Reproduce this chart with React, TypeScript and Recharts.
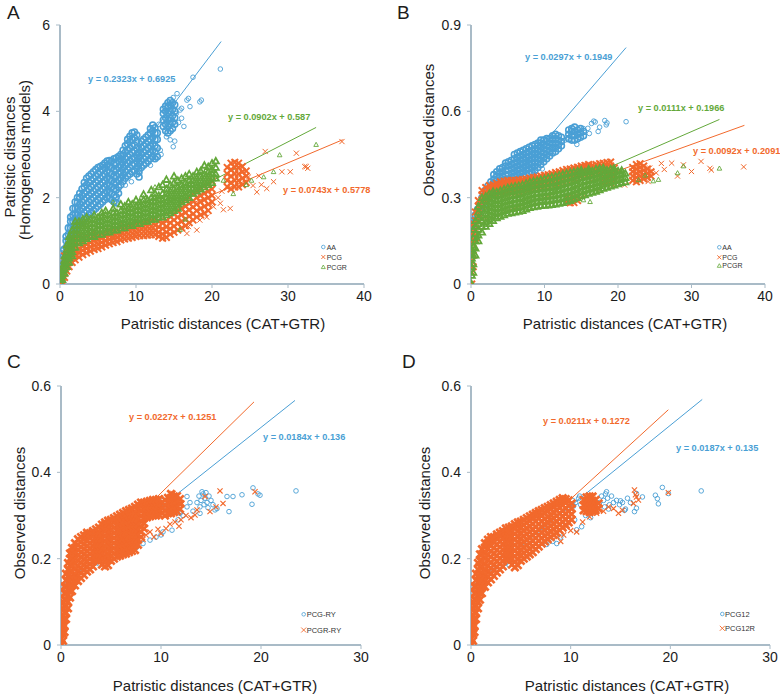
import React from "react";
import { ScatterChart, Scatter, XAxis, YAxis, ReferenceLine } from "recharts";

const BLUE = "#4a9fd5";
const ORANGE = "#f2692c";
const GREEN = "#63a83a";
const AXIS = "#a9bbc7";
const INK = "#1c1c1c";
const FONT = "'Liberation Sans', Arial, sans-serif";

type Row = number[];
type Pt = { x: number; y: number };
// columns: [x, y1, y2, ...]   points: [x, y]
const fromCols = (rows: Row[]): Pt[] => rows.flatMap(([x, ...ys]) => ys.map((y) => ({ x, y })));
const fromPts = (rows: Row[]): Pt[] => rows.map(([x, y]) => ({ x, y }));

// ---------- panel A : patristic (homogeneous) vs patristic (CAT+GTR)
const aTicksX = [0, 10, 20, 30, 40];
const aTicksY = [0, 2, 4, 6];

const aaColsA: Row[] = [
  [0.2, 0.2, 0.4], [0.5, 0.35, 0.5, 0.65, 0.8], [0.8, 0.55, 0.7, 0.85, 1.0, 1.1],
  [1.1, 0.7, 0.85, 1.0, 1.15, 1.3], [1.4, 0.85, 1.0, 1.15, 1.3, 1.45, 1.55],
  [1.7, 1.0, 1.15, 1.3, 1.45, 1.6, 1.75], [2.0, 1.15, 1.3, 1.45, 1.6, 1.75, 1.9],
  [2.3, 1.3, 1.45, 1.6, 1.75, 1.9, 2.0], [2.6, 1.4, 1.55, 1.7, 1.85, 2.0, 2.1],
  [2.9, 1.45, 1.6, 1.75, 1.9, 2.05, 2.2], [3.2, 1.5, 1.65, 1.8, 1.95, 2.1, 2.25, 2.35],
  [3.5, 1.55, 1.7, 1.85, 2.0, 2.15, 2.3, 2.45], [3.8, 1.6, 1.75, 1.9, 2.05, 2.2, 2.35, 2.5],
  [4.1, 1.65, 1.8, 1.95, 2.1, 2.25, 2.4, 2.55], [4.4, 1.7, 1.85, 2.0, 2.15, 2.3, 2.45, 2.6],
  [4.7, 1.75, 1.9, 2.05, 2.2, 2.35, 2.5, 2.65], [5.0, 1.8, 1.95, 2.1, 2.25, 2.4, 2.55, 2.7],
  [5.3, 1.85, 2.0, 2.15, 2.3, 2.45, 2.6, 2.72], [5.6, 1.9, 2.05, 2.2, 2.35, 2.5, 2.65, 2.75],
  [5.9, 1.95, 2.1, 2.25, 2.4, 2.55, 2.7, 2.8], [6.2, 2.0, 2.15, 2.3, 2.45, 2.6, 2.75, 2.85],
  [6.5, 1.98, 2.12, 2.28, 2.42, 2.58, 2.72, 2.86], [6.8, 1.95, 2.1, 2.25, 2.4, 2.55, 2.7, 2.85],
  [7.1, 1.9, 2.05, 2.2, 2.35, 2.5, 2.65, 2.8, 2.9], [7.4, 1.88, 2.02, 2.18, 2.35, 2.5, 2.65, 2.8, 2.92],
  [7.7, 2.1, 2.25, 2.4, 2.55, 2.7, 2.85, 2.95], [8.0, 2.3, 2.45, 2.6, 2.75, 2.9, 3.0],
  [8.3, 2.38, 2.52, 2.68, 2.82, 2.98, 3.1], [8.6, 2.45, 2.6, 2.75, 2.9, 3.05, 3.2],
  [8.9, 2.5, 2.65, 2.8, 2.95, 3.1, 3.25, 3.35], [9.2, 2.55, 2.7, 2.85, 3.0, 3.15, 3.3, 3.42],
  [9.5, 2.6, 2.75, 2.9, 3.05, 3.2, 3.35, 3.5], [9.8, 2.62, 2.78, 2.92, 3.08, 3.22, 3.38, 3.52],
  [10.1, 2.55, 2.7, 2.85, 3.0, 3.15, 3.3, 3.45], [10.4, 2.48, 2.62, 2.78, 2.92, 3.05],
  [10.7, 2.7, 2.85, 3.0, 3.15, 3.3], [11.0, 2.75, 2.9, 3.05, 3.2, 3.35],
  [11.3, 2.8, 2.95, 3.1, 3.25, 3.4], [11.6, 2.85, 3.0, 3.15, 3.3, 3.45],
  [11.9, 2.9, 3.05, 3.2, 3.35, 3.5, 3.6], [12.2, 2.95, 3.1, 3.25, 3.4, 3.55, 3.68],
  [12.5, 2.9, 3.05, 3.2, 3.35, 3.5, 3.62], [12.8, 2.95, 3.15, 3.35, 3.5],
  [13.6, 3.65, 3.8, 3.95, 4.05], [13.9, 3.55, 3.7, 3.85, 4.0, 4.12],
  [14.2, 3.5, 3.65, 3.8, 3.95, 4.1, 4.2], [14.5, 3.55, 3.7, 3.85, 4.0, 4.15, 4.25],
  [14.8, 3.6, 3.75, 3.9, 4.05, 4.2], [15.1, 3.7, 3.85, 4.0, 4.15],
];
const aaPtsA: Row[] = [
  [15.4, 4.41], [14.9, 4.32], [16.0, 3.84], [15.8, 4.03], [16.7, 4.26], [16.9, 4.3], [17.1, 4.11],
  [18.4, 4.22], [18.6, 4.26], [17.5, 4.79], [21.1, 4.98], [16.0, 4.07], [15.6, 3.74], [15.1, 3.31],
  [14.9, 3.18], [14.0, 3.41], [14.5, 3.34], [13.2, 3.1], [12.7, 2.91], [11.6, 2.8], [10.5, 2.56],
  [9.4, 2.37], [8.6, 2.29], [7.5, 1.95], [5.5, 1.64], [4.8, 1.48], [16.3, 3.65], [13.3, 3.0],
  [11.9, 2.75], [13.0, 3.7], [15.3, 3.95],
];
const pcgColsA: Row[] = [
  [0.1, 0.0, 0.08], [0.3, 0.05, 0.15, 0.25, 0.35], [0.6, 0.15, 0.25, 0.35, 0.45, 0.55, 0.65],
  [0.9, 0.3, 0.4, 0.5, 0.6, 0.7, 0.8], [1.2, 0.4, 0.5, 0.6, 0.7, 0.8, 0.9],
  [1.6, 0.5, 0.6, 0.7, 0.8, 0.9, 1.0], [2.0, 0.56, 0.66, 0.76, 0.86, 0.96, 1.06],
  [2.5, 0.62, 0.72, 0.82, 0.92, 1.02, 1.12], [3.0, 0.68, 0.78, 0.88, 0.98, 1.08],
  [3.5, 0.72, 0.82, 0.92, 1.02, 1.12], [4.0, 0.76, 0.86, 0.96, 1.06, 1.16],
  [4.5, 0.8, 0.9, 1.0, 1.1, 1.2], [5.0, 0.82, 0.92, 1.02, 1.12], [5.5, 0.86, 0.96, 1.06, 1.16],
  [6.0, 0.9, 1.0, 1.1, 1.2], [6.5, 0.93, 1.03, 1.13, 1.23], [7.0, 0.96, 1.06, 1.16, 1.26],
  [7.5, 0.98, 1.08, 1.18, 1.28], [8.0, 1.02, 1.12, 1.22, 1.32], [8.5, 1.04, 1.14, 1.24, 1.34],
  [9.0, 1.06, 1.16, 1.26, 1.36], [9.5, 1.08, 1.18, 1.28, 1.38], [10.0, 1.1, 1.2, 1.3, 1.4],
  [10.5, 1.12, 1.22, 1.32, 1.42], [11.0, 1.12, 1.22, 1.32, 1.42], [11.5, 1.13, 1.23, 1.33, 1.45],
  [12.0, 1.14, 1.24, 1.34, 1.48], [12.5, 1.14, 1.24, 1.36, 1.5], [13.0, 1.1, 1.2, 1.32, 1.45],
  [13.5, 1.06, 1.16, 1.28, 1.42], [14.0, 1.08, 1.2, 1.32, 1.46], [14.5, 1.15, 1.28, 1.42, 1.56],
  [15.0, 1.2, 1.34, 1.48, 1.62], [15.5, 1.25, 1.4, 1.55, 1.7], [16.0, 1.3, 1.45, 1.6, 1.75, 1.88],
  [16.5, 1.35, 1.5, 1.65, 1.8, 1.95], [17.0, 1.42, 1.57, 1.72, 1.87, 2.0],
  [17.5, 1.48, 1.62, 1.78, 1.92, 2.08], [18.0, 1.55, 1.7, 1.85, 2.0, 2.15],
  [18.5, 1.6, 1.75, 1.9, 2.05, 2.2], [19.0, 1.64, 1.8, 1.95, 2.1, 2.28],
  [19.5, 1.7, 1.85, 2.0, 2.15, 2.32], [20.0, 1.9, 2.05, 2.2, 2.38],
  [22.0, 2.25, 2.4, 2.55, 2.7], [22.5, 2.2, 2.35, 2.5, 2.65, 2.8], [23.0, 2.25, 2.4, 2.55, 2.7, 2.82],
  [23.5, 2.25, 2.4, 2.55, 2.7, 2.8], [24.0, 2.3, 2.45, 2.6, 2.72], [24.5, 2.35, 2.5, 2.62],
];
const pcgPtsA: Row[] = [
  [27.0, 3.07], [31.1, 3.03], [37.1, 3.3], [30.3, 2.6], [29.2, 2.6], [32.2, 2.72], [32.6, 2.68],
  [32.4, 2.72], [28.1, 2.37], [27.2, 2.21], [25.9, 2.13], [25.4, 2.28], [24.8, 2.48], [26.2, 2.5],
  [22.4, 1.75], [21.5, 1.72], [21.1, 1.87], [18.0, 1.25], [18.4, 1.48], [16.9, 1.33], [16.7, 1.17],
  [19.3, 1.55], [20.2, 1.79], [20.8, 2.0], [21.3, 2.15], [26.5, 2.3],
];
const pcgrColsA: Row[] = [
  [0.1, 0.02, 0.1, 0.2], [0.3, 0.1, 0.2, 0.3, 0.4], [0.6, 0.25, 0.35, 0.45, 0.55, 0.65],
  [0.9, 0.4, 0.5, 0.6, 0.7, 0.8, 0.9], [1.2, 0.5, 0.6, 0.7, 0.8, 0.9, 1.0, 1.1],
  [1.6, 0.65, 0.75, 0.85, 0.95, 1.05, 1.15, 1.25], [2.0, 0.85, 0.95, 1.05, 1.15, 1.25, 1.35, 1.45],
  [2.5, 0.95, 1.05, 1.15, 1.25, 1.35, 1.45], [3.0, 1.0, 1.1, 1.2, 1.3, 1.4, 1.5],
  [3.5, 1.05, 1.15, 1.25, 1.35, 1.45, 1.55], [4.0, 1.1, 1.2, 1.3, 1.4, 1.5],
  [4.5, 1.1, 1.2, 1.3, 1.4, 1.5, 1.6], [5.0, 1.15, 1.25, 1.35, 1.45, 1.55],
  [5.5, 1.15, 1.25, 1.35, 1.45, 1.55, 1.65], [6.0, 1.2, 1.3, 1.4, 1.5, 1.6, 1.7],
  [6.5, 1.2, 1.3, 1.4, 1.5, 1.6], [7.0, 1.25, 1.35, 1.45, 1.55, 1.65, 1.75],
  [7.5, 1.25, 1.35, 1.45, 1.55, 1.65], [8.0, 1.3, 1.4, 1.5, 1.6, 1.7, 1.85],
  [8.5, 1.3, 1.4, 1.5, 1.6, 1.7, 1.8], [9.0, 1.35, 1.45, 1.55, 1.65, 1.75, 1.9],
  [9.5, 1.35, 1.45, 1.55, 1.65, 1.75, 1.85], [10.0, 1.4, 1.5, 1.6, 1.7, 1.8, 1.95],
  [10.5, 1.4, 1.5, 1.6, 1.7, 1.8, 1.9], [11.0, 1.45, 1.55, 1.65, 1.75, 1.85, 1.95, 2.08],
  [11.5, 1.45, 1.55, 1.65, 1.75, 1.85, 1.95], [12.0, 1.5, 1.6, 1.7, 1.8, 1.9, 2.0, 2.18],
  [12.5, 1.5, 1.6, 1.7, 1.8, 1.9, 2.0, 2.1], [13.0, 1.55, 1.65, 1.75, 1.85, 1.95, 2.05, 2.25],
  [13.5, 1.55, 1.65, 1.75, 1.85, 1.95, 2.1, 2.3], [14.0, 1.6, 1.7, 1.8, 1.9, 2.0, 2.1, 2.2, 2.42],
  [14.5, 1.65, 1.75, 1.85, 1.95, 2.05, 2.15, 2.3], [15.0, 1.7, 1.8, 1.9, 2.0, 2.1, 2.2, 2.35, 2.5],
  [15.5, 1.75, 1.85, 1.95, 2.05, 2.15, 2.25, 2.4], [16.0, 1.9, 2.0, 2.1, 2.2, 2.3, 2.45],
  [16.5, 1.95, 2.05, 2.15, 2.25, 2.35, 2.5], [17.0, 2.0, 2.1, 2.2, 2.3, 2.4, 2.55],
  [17.5, 2.1, 2.2, 2.3, 2.4, 2.5], [18.0, 2.15, 2.25, 2.35, 2.45, 2.6],
  [18.5, 2.2, 2.3, 2.4, 2.5, 2.62], [19.0, 2.25, 2.35, 2.45, 2.55, 2.75],
  [19.5, 2.3, 2.4, 2.5, 2.6, 2.72], [20.0, 2.35, 2.45, 2.55, 2.65, 2.8], [20.5, 2.45, 2.55, 2.7, 2.85],
];
const pcgrPtsA: Row[] = [
  [33.7, 3.23], [28.9, 2.99], [28.1, 2.6], [26.8, 2.48], [22.8, 2.09], [18.4, 2.6], [9.0, 1.9],
  [15.8, 1.84], [15.8, 1.26], [25.2, 2.4], [24.5, 2.3], [21.5, 2.4], [16.5, 1.5], [7.0, 1.9], [12.5, 2.25],
];

// ---------- panel B : observed vs patristic (CAT+GTR)
const bTicksX = [0, 10, 20, 30, 40];
const bTicksY = [0, 0.3, 0.6, 0.9];

const aaColsB: Row[] = [
  [0.1, 0.15, 0.18, 0.21], [0.3, 0.19, 0.22], [0.6, 0.22, 0.24], [0.9, 0.24, 0.26], [1.2, 0.26, 0.275],
  [1.5, 0.27, 0.285, 0.3], [1.9, 0.28, 0.295, 0.31, 0.325], [2.3, 0.295, 0.31, 0.325, 0.34],
  [2.7, 0.31, 0.325, 0.34, 0.355], [3.1, 0.32, 0.335, 0.35, 0.365, 0.38],
  [3.5, 0.33, 0.345, 0.36, 0.375, 0.39], [3.9, 0.34, 0.355, 0.37, 0.385, 0.4],
  [4.3, 0.345, 0.36, 0.375, 0.39, 0.405], [4.7, 0.35, 0.365, 0.38, 0.395, 0.41, 0.42],
  [5.1, 0.35, 0.365, 0.38, 0.395, 0.41, 0.425], [5.5, 0.355, 0.37, 0.385, 0.4, 0.415, 0.43],
  [5.9, 0.36, 0.375, 0.39, 0.405, 0.42, 0.435, 0.45], [6.3, 0.365, 0.38, 0.395, 0.41, 0.425, 0.44, 0.455],
  [6.7, 0.37, 0.385, 0.4, 0.415, 0.43, 0.445, 0.46], [7.1, 0.375, 0.39, 0.405, 0.42, 0.435, 0.45, 0.465],
  [7.5, 0.38, 0.395, 0.41, 0.425, 0.44, 0.455, 0.47], [7.9, 0.385, 0.4, 0.415, 0.43, 0.445, 0.46, 0.475],
  [8.3, 0.39, 0.405, 0.42, 0.435, 0.45, 0.465, 0.48], [8.7, 0.395, 0.41, 0.425, 0.44, 0.455, 0.47, 0.485],
  [9.1, 0.405, 0.42, 0.435, 0.45, 0.465, 0.48, 0.49], [9.5, 0.415, 0.43, 0.445, 0.46, 0.475, 0.49, 0.5],
  [9.9, 0.425, 0.44, 0.455, 0.47, 0.485, 0.5], [10.3, 0.435, 0.45, 0.465, 0.48, 0.495, 0.505],
  [10.7, 0.445, 0.46, 0.475, 0.49, 0.505], [11.1, 0.455, 0.47, 0.485, 0.5, 0.515],
  [11.5, 0.46, 0.475, 0.49, 0.505, 0.52], [11.9, 0.47, 0.485, 0.5, 0.515], [12.3, 0.48, 0.495, 0.51],
  [13.3, 0.505, 0.52, 0.535], [13.7, 0.5, 0.515, 0.53, 0.54], [14.1, 0.5, 0.515, 0.53, 0.545],
  [14.5, 0.505, 0.52, 0.535], [14.9, 0.51, 0.525, 0.54], [15.3, 0.515, 0.53],
];
const aaPtsB: Row[] = [
  [16.4, 0.558], [16.7, 0.566], [17.5, 0.545], [17.3, 0.53], [18.2, 0.568], [18.5, 0.56], [21.1, 0.564],
  [14.4, 0.485], [16.1, 0.523], [15.3, 0.54], [8.6, 0.384], [7.6, 0.42], [16.9, 0.563], [15.9, 0.541],
  [18.4, 0.553], [11.2, 0.517], [9.7, 0.4], [12.8, 0.5],
];
const pcgColsB: Row[] = [
  [0.1, 0.0, 0.04, 0.08, 0.12, 0.16], [0.3, 0.06, 0.1, 0.14, 0.18, 0.21], [0.6, 0.16, 0.19, 0.22, 0.25],
  [1.0, 0.22, 0.245, 0.27, 0.29], [1.5, 0.27, 0.29, 0.31, 0.325], [2.0, 0.29, 0.305, 0.32, 0.335],
  [2.5, 0.3, 0.315, 0.33, 0.342], [3.0, 0.305, 0.32, 0.335, 0.345], [3.5, 0.31, 0.325, 0.34, 0.35],
  [4.0, 0.315, 0.33, 0.345, 0.355], [4.5, 0.315, 0.33, 0.345, 0.357], [5.0, 0.318, 0.333, 0.348, 0.36],
  [5.5, 0.32, 0.335, 0.35, 0.36], [6.0, 0.32, 0.335, 0.35, 0.36], [6.5, 0.322, 0.337, 0.352, 0.362],
  [7.0, 0.325, 0.34, 0.355, 0.363], [7.5, 0.328, 0.343, 0.358, 0.365], [8.0, 0.33, 0.345, 0.36, 0.368],
  [8.5, 0.333, 0.348, 0.362, 0.37], [9.0, 0.336, 0.351, 0.365, 0.372], [9.5, 0.338, 0.353, 0.367, 0.375],
  [10.0, 0.34, 0.355, 0.37, 0.378], [10.5, 0.343, 0.358, 0.372, 0.38], [11.0, 0.346, 0.36, 0.375, 0.383],
  [11.5, 0.35, 0.364, 0.378, 0.387], [12.0, 0.353, 0.367, 0.381, 0.39], [12.5, 0.356, 0.37, 0.384, 0.394],
  [13.0, 0.285, 0.3, 0.36, 0.374, 0.388, 0.398], [13.5, 0.282, 0.297, 0.364, 0.378, 0.392, 0.4],
  [14.0, 0.283, 0.298, 0.368, 0.382, 0.396, 0.403], [14.5, 0.29, 0.305, 0.372, 0.386, 0.4, 0.406],
  [15.0, 0.376, 0.39, 0.403, 0.41], [15.5, 0.38, 0.394, 0.406, 0.412], [16.0, 0.383, 0.397, 0.409, 0.415],
  [16.5, 0.386, 0.4, 0.412], [17.0, 0.388, 0.402, 0.415], [17.5, 0.39, 0.404, 0.418],
  [18.0, 0.35, 0.365, 0.392, 0.406, 0.42], [18.5, 0.35, 0.365, 0.38, 0.394, 0.408, 0.422],
  [19.0, 0.352, 0.367, 0.382, 0.396, 0.41, 0.424], [19.5, 0.36, 0.375, 0.39, 0.404],
  [22.0, 0.36, 0.375, 0.39, 0.405], [22.5, 0.355, 0.37, 0.385, 0.4, 0.415],
  [23.0, 0.36, 0.375, 0.39, 0.405, 0.418], [23.5, 0.365, 0.38, 0.395, 0.41], [24.0, 0.37, 0.385, 0.4],
  [24.5, 0.375, 0.39],
];
const pcgPtsB: Row[] = [
  [25.9, 0.419], [27.3, 0.42], [28.9, 0.414], [30.0, 0.391], [31.3, 0.426], [32.5, 0.402], [32.7, 0.396],
  [37.1, 0.407], [28.1, 0.375], [26.3, 0.398], [25.2, 0.386], [24.3, 0.403], [20.9, 0.344], [20.0, 0.355],
  [19.1, 0.35], [17.5, 0.327], [15.3, 0.31], [13.9, 0.3], [24.1, 0.356],
];
const pcgrColsB: Row[] = [
  [0.1, 0.0, 0.03, 0.06, 0.09, 0.12], [0.3, 0.04, 0.07, 0.1, 0.13, 0.16, 0.19],
  [0.6, 0.1, 0.125, 0.15, 0.175, 0.2, 0.22], [1.0, 0.15, 0.17, 0.19, 0.21, 0.23, 0.25, 0.27],
  [1.5, 0.18, 0.2, 0.22, 0.24, 0.26, 0.28, 0.3], [2.0, 0.2, 0.215, 0.23, 0.245, 0.26, 0.275, 0.29, 0.305],
  [2.5, 0.21, 0.225, 0.24, 0.255, 0.27, 0.285, 0.3, 0.315],
  [3.0, 0.22, 0.235, 0.25, 0.265, 0.28, 0.295, 0.31, 0.322],
  [3.5, 0.23, 0.245, 0.26, 0.275, 0.29, 0.305, 0.32], [4.0, 0.235, 0.25, 0.265, 0.28, 0.295, 0.31, 0.325],
  [4.5, 0.24, 0.255, 0.27, 0.285, 0.3, 0.315, 0.33], [5.0, 0.245, 0.26, 0.275, 0.29, 0.305, 0.32, 0.335],
  [5.5, 0.247, 0.262, 0.277, 0.292, 0.307, 0.322, 0.337], [6.0, 0.25, 0.265, 0.28, 0.295, 0.31, 0.325, 0.34],
  [6.5, 0.252, 0.267, 0.282, 0.297, 0.312, 0.327, 0.342], [7.0, 0.255, 0.27, 0.285, 0.3, 0.315, 0.33, 0.345],
  [7.5, 0.26, 0.275, 0.29, 0.305, 0.32, 0.335, 0.35], [8.0, 0.265, 0.28, 0.295, 0.31, 0.325, 0.34, 0.355],
  [8.5, 0.268, 0.283, 0.298, 0.313, 0.328, 0.343, 0.358], [9.0, 0.27, 0.285, 0.3, 0.315, 0.33, 0.345, 0.36],
  [9.5, 0.272, 0.287, 0.302, 0.317, 0.332, 0.347, 0.363], [10.0, 0.273, 0.288, 0.303, 0.318, 0.333, 0.348, 0.366],
  [10.5, 0.274, 0.29, 0.305, 0.32, 0.335, 0.35, 0.37], [11.0, 0.276, 0.292, 0.307, 0.322, 0.337, 0.352, 0.372],
  [11.5, 0.278, 0.294, 0.31, 0.325, 0.34, 0.356, 0.375], [12.0, 0.28, 0.296, 0.312, 0.328, 0.344, 0.36, 0.378],
  [12.5, 0.283, 0.3, 0.316, 0.332, 0.348, 0.364, 0.382], [13.0, 0.287, 0.303, 0.319, 0.335, 0.351, 0.367, 0.385],
  [13.5, 0.29, 0.306, 0.322, 0.338, 0.354, 0.37, 0.388], [14.0, 0.295, 0.311, 0.327, 0.343, 0.359, 0.375, 0.39],
  [14.5, 0.3, 0.316, 0.332, 0.348, 0.364, 0.38, 0.393], [15.0, 0.306, 0.322, 0.338, 0.354, 0.37, 0.386, 0.396],
  [15.5, 0.31, 0.326, 0.342, 0.358, 0.374, 0.39], [16.0, 0.315, 0.33, 0.345, 0.36, 0.375, 0.39, 0.4],
  [16.5, 0.318, 0.333, 0.348, 0.363, 0.378, 0.393], [17.0, 0.322, 0.337, 0.352, 0.367, 0.382, 0.4],
  [17.5, 0.327, 0.342, 0.357, 0.372, 0.387, 0.402], [18.0, 0.332, 0.347, 0.362, 0.377, 0.392, 0.404],
  [18.5, 0.336, 0.351, 0.366, 0.381, 0.396], [19.0, 0.34, 0.355, 0.37, 0.385, 0.4],
  [19.5, 0.344, 0.359, 0.374, 0.389, 0.4], [20.0, 0.348, 0.363, 0.378, 0.393],
  [20.5, 0.352, 0.367, 0.382, 0.395], [21.0, 0.355, 0.37, 0.385],
];
const pcgrPtsB: Row[] = [
  [33.8, 0.402], [28.9, 0.41], [28.1, 0.386], [25.5, 0.363], [24.8, 0.358], [16.2, 0.286], [15.3, 0.292],
  [19.4, 0.408], [20.5, 0.395], [22.8, 0.362], [23.7, 0.378],
];

// ---------- panel C : observed vs patristic, RY coding
const cdTicksX = [0, 10, 20, 30];
const cdTicksY = [0, 0.2, 0.4, 0.6];

const pcgrRyColsC: Row[] = [
  [0.05, 0.0, 0.015, 0.03, 0.045, 0.06], [0.2, 0.01, 0.025, 0.04, 0.055, 0.07, 0.085, 0.1],
  [0.35, 0.03, 0.045, 0.06, 0.075, 0.09, 0.105, 0.12, 0.135],
  [0.5, 0.06, 0.075, 0.09, 0.105, 0.12, 0.135, 0.15, 0.165],
  [0.7, 0.085, 0.1, 0.115, 0.13, 0.145, 0.16, 0.175, 0.19],
  [0.9, 0.11, 0.125, 0.14, 0.155, 0.17, 0.185, 0.2, 0.212],
  [1.1, 0.125, 0.14, 0.155, 0.17, 0.185, 0.2, 0.215, 0.225],
  [1.4, 0.138, 0.15, 0.162, 0.175, 0.188, 0.2, 0.212, 0.225, 0.236],
  [1.7, 0.148, 0.16, 0.172, 0.184, 0.196, 0.208, 0.22, 0.232, 0.245],
  [2.0, 0.155, 0.167, 0.179, 0.191, 0.203, 0.215, 0.227, 0.239, 0.25],
  [2.3, 0.162, 0.174, 0.186, 0.198, 0.21, 0.222, 0.234, 0.246, 0.254],
  [2.6, 0.17, 0.182, 0.194, 0.206, 0.218, 0.23, 0.242, 0.254, 0.26],
  [2.9, 0.175, 0.187, 0.199, 0.211, 0.223, 0.235, 0.247, 0.259],
  [3.2, 0.182, 0.194, 0.206, 0.218, 0.23, 0.242, 0.254, 0.264],
  [3.5, 0.196, 0.208, 0.22, 0.232, 0.244, 0.256, 0.268],
  [3.8, 0.198, 0.21, 0.222, 0.234, 0.246, 0.258, 0.272],
  [4.1, 0.186, 0.198, 0.21, 0.222, 0.234, 0.246, 0.258, 0.27, 0.279],
  [4.4, 0.182, 0.194, 0.206, 0.218, 0.23, 0.242, 0.254, 0.266, 0.278, 0.284],
  [4.7, 0.185, 0.197, 0.209, 0.221, 0.233, 0.245, 0.257, 0.269, 0.281, 0.288],
  [5.0, 0.195, 0.207, 0.219, 0.231, 0.243, 0.255, 0.267, 0.279, 0.29],
  [5.3, 0.2, 0.212, 0.224, 0.236, 0.248, 0.26, 0.272, 0.284, 0.294],
  [5.6, 0.205, 0.217, 0.229, 0.241, 0.253, 0.265, 0.277, 0.289, 0.298],
  [5.9, 0.207, 0.219, 0.231, 0.243, 0.255, 0.267, 0.279, 0.291, 0.302],
  [6.2, 0.21, 0.222, 0.234, 0.246, 0.258, 0.27, 0.282, 0.294, 0.306],
  [6.5, 0.212, 0.224, 0.236, 0.248, 0.26, 0.272, 0.284, 0.296, 0.31],
  [6.8, 0.215, 0.227, 0.239, 0.251, 0.263, 0.275, 0.287, 0.299, 0.313],
  [7.1, 0.218, 0.23, 0.242, 0.254, 0.266, 0.278, 0.29, 0.302, 0.316],
  [7.4, 0.22, 0.232, 0.244, 0.256, 0.268, 0.28, 0.292, 0.304, 0.32],
  [7.7, 0.232, 0.244, 0.256, 0.268, 0.28, 0.292, 0.304, 0.316, 0.325],
  [8.0, 0.25, 0.262, 0.274, 0.286, 0.298, 0.31, 0.322, 0.33],
  [8.3, 0.27, 0.282, 0.294, 0.306, 0.318, 0.33], [8.6, 0.296, 0.308, 0.32, 0.332],
  [8.9, 0.298, 0.31, 0.322, 0.334], [9.2, 0.3, 0.312, 0.324, 0.336], [9.5, 0.3, 0.312, 0.324, 0.336],
  [9.8, 0.302, 0.314, 0.326, 0.338], [10.1, 0.305, 0.317, 0.329], [10.4, 0.3, 0.312, 0.324, 0.336],
  [10.7, 0.305, 0.317, 0.329, 0.341], [11.0, 0.305, 0.317, 0.329, 0.341, 0.35],
  [11.3, 0.308, 0.32, 0.332, 0.344], [11.6, 0.31, 0.322, 0.334, 0.345], [11.9, 0.315, 0.327, 0.338],
];
const pcgrRyPtsC: Row[] = [
  [15.9, 0.357], [14.4, 0.344], [16.2, 0.328], [14.9, 0.309], [13.6, 0.313], [13.4, 0.301], [12.1, 0.328],
  [11.2, 0.351], [19.4, 0.355], [8.5, 0.255], [8.9, 0.262], [9.3, 0.25], [9.7, 0.268], [10.0, 0.258],
  [10.5, 0.27], [10.9, 0.28], [11.4, 0.285], [12.0, 0.29], [12.5, 0.3], [13.0, 0.295], [8.2, 0.245],
  [11.8, 0.275], [15.5, 0.32],
];
const pcgRyPtsC: Row[] = [
  [13.6, 0.33], [13.8, 0.345], [14.0, 0.335], [14.2, 0.35], [14.4, 0.34], [14.6, 0.33], [14.8, 0.345],
  [15.0, 0.335], [13.9, 0.32], [14.3, 0.325], [14.7, 0.318], [15.2, 0.325], [14.5, 0.353], [15.4, 0.313],
  [15.6, 0.316], [14.1, 0.355], [16.6, 0.344], [17.2, 0.344], [18.1, 0.348], [19.2, 0.364], [19.1, 0.326],
  [19.7, 0.35], [19.9, 0.347], [23.5, 0.357], [16.8, 0.309], [12.6, 0.32], [11.9, 0.305], [11.1, 0.266],
  [10.2, 0.262], [8.9, 0.243], [8.2, 0.235], [7.6, 0.239], [4.9, 0.228], [3.6, 0.193], [3.2, 0.263],
  [10.2, 0.336], [11.4, 0.344], [12.6, 0.344], [13.9, 0.305], [10.5, 0.32], [10.8, 0.31], [11.0, 0.325],
  [10.4, 0.33], [3.4, 0.19], [3.8, 0.188], [7.2, 0.228], [7.5, 0.225], [9.5, 0.25], [10.0, 0.255],
  [12.2, 0.3], [13.2, 0.31], [12.9, 0.33], [11.7, 0.29],
];

// ---------- panel D : observed vs patristic, codon positions 1+2
const pcg12rColsD: Row[] = [
  [0.05, 0.0, 0.015, 0.03, 0.045, 0.06], [0.2, 0.01, 0.025, 0.04, 0.055, 0.07, 0.085, 0.1],
  [0.35, 0.03, 0.045, 0.06, 0.075, 0.09, 0.105, 0.12, 0.135],
  [0.5, 0.06, 0.075, 0.09, 0.105, 0.12, 0.135, 0.15, 0.165],
  [0.7, 0.085, 0.1, 0.115, 0.13, 0.145, 0.16, 0.175, 0.19],
  [0.9, 0.105, 0.12, 0.135, 0.15, 0.165, 0.18, 0.195, 0.21],
  [1.1, 0.12, 0.135, 0.15, 0.165, 0.18, 0.195, 0.21, 0.222],
  [1.4, 0.135, 0.148, 0.161, 0.174, 0.187, 0.2, 0.213, 0.226, 0.236],
  [1.7, 0.145, 0.158, 0.171, 0.184, 0.197, 0.21, 0.223, 0.236, 0.244],
  [2.0, 0.152, 0.165, 0.178, 0.191, 0.204, 0.217, 0.23, 0.243, 0.25],
  [2.3, 0.16, 0.173, 0.186, 0.199, 0.212, 0.225, 0.238, 0.25],
  [2.6, 0.168, 0.181, 0.194, 0.207, 0.22, 0.233, 0.246, 0.256],
  [2.9, 0.175, 0.188, 0.201, 0.214, 0.227, 0.24, 0.252, 0.26],
  [3.2, 0.182, 0.195, 0.208, 0.221, 0.234, 0.247, 0.258, 0.264],
  [3.5, 0.198, 0.211, 0.224, 0.237, 0.25, 0.262, 0.27],
  [3.8, 0.2, 0.213, 0.226, 0.239, 0.252, 0.264, 0.272],
  [4.1, 0.186, 0.199, 0.212, 0.225, 0.238, 0.251, 0.264, 0.275],
  [4.4, 0.18, 0.193, 0.206, 0.219, 0.232, 0.245, 0.258, 0.271, 0.28],
  [4.7, 0.185, 0.198, 0.211, 0.224, 0.237, 0.25, 0.263, 0.276, 0.284],
  [5.0, 0.195, 0.208, 0.221, 0.234, 0.247, 0.26, 0.273, 0.286],
  [5.3, 0.2, 0.213, 0.226, 0.239, 0.252, 0.265, 0.278, 0.29],
  [5.6, 0.205, 0.218, 0.231, 0.244, 0.257, 0.27, 0.283, 0.294],
  [5.9, 0.21, 0.223, 0.236, 0.249, 0.262, 0.275, 0.288, 0.298],
  [6.2, 0.215, 0.228, 0.241, 0.254, 0.267, 0.28, 0.293, 0.302],
  [6.5, 0.222, 0.235, 0.248, 0.261, 0.274, 0.287, 0.3, 0.306],
  [6.8, 0.228, 0.241, 0.254, 0.267, 0.28, 0.293, 0.305, 0.31],
  [7.1, 0.235, 0.248, 0.261, 0.274, 0.287, 0.3, 0.313], [7.4, 0.24, 0.253, 0.266, 0.279, 0.292, 0.305, 0.317],
  [7.7, 0.245, 0.258, 0.271, 0.284, 0.297, 0.31, 0.32], [8.0, 0.25, 0.263, 0.276, 0.289, 0.302, 0.315, 0.324],
  [8.3, 0.255, 0.268, 0.281, 0.294, 0.307, 0.32, 0.328], [8.6, 0.26, 0.273, 0.286, 0.299, 0.312, 0.325, 0.332],
  [8.9, 0.266, 0.279, 0.292, 0.305, 0.318, 0.33, 0.336], [9.2, 0.272, 0.285, 0.298, 0.311, 0.324, 0.335, 0.34],
  [9.5, 0.278, 0.291, 0.304, 0.317, 0.33, 0.338], [9.8, 0.284, 0.297, 0.31, 0.323, 0.335],
  [10.1, 0.29, 0.303, 0.316, 0.328], [11.3, 0.312, 0.324, 0.336], [11.6, 0.31, 0.322, 0.334, 0.342],
  [11.9, 0.308, 0.32, 0.332, 0.344], [12.2, 0.31, 0.322, 0.334, 0.344], [12.5, 0.312, 0.324, 0.336],
  [12.8, 0.316, 0.328],
];
const pcg12rPtsD: Row[] = [
  [16.4, 0.359], [16.6, 0.343], [16.3, 0.328], [16.8, 0.336], [19.8, 0.353], [14.3, 0.316], [13.8, 0.32],
  [15.2, 0.312], [9.6, 0.274], [9.0, 0.24], [8.6, 0.251], [10.6, 0.262], [11.9, 0.297], [12.6, 0.305],
  [9.3, 0.255], [10.0, 0.265], [11.2, 0.285], [16.5, 0.348], [14.8, 0.305], [13.3, 0.31],
];
const pcg12PtsD: Row[] = [
  [12.9, 0.33], [13.1, 0.345], [13.3, 0.335], [13.5, 0.35], [13.7, 0.34], [13.9, 0.325], [14.1, 0.345],
  [13.4, 0.32], [13.8, 0.315], [14.3, 0.33], [14.6, 0.335], [14.9, 0.325], [15.2, 0.33], [15.5, 0.315],
  [15.4, 0.312], [13.6, 0.355], [10.2, 0.335], [10.5, 0.33], [10.8, 0.34], [11.0, 0.325], [10.3, 0.322],
  [10.9, 0.345], [10.4, 0.29], [10.6, 0.267], [11.1, 0.274], [11.5, 0.3], [12.0, 0.295], [8.6, 0.235],
  [8.2, 0.24], [9.0, 0.25], [7.6, 0.233], [3.5, 0.19], [3.8, 0.186], [3.2, 0.262], [4.6, 0.28],
  [16.6, 0.351], [17.2, 0.343], [18.5, 0.347], [18.7, 0.339], [18.8, 0.327], [19.2, 0.365], [19.8, 0.351],
  [23.1, 0.357], [16.6, 0.317], [16.4, 0.309], [15.0, 0.334], [16.0, 0.33], [15.7, 0.34],
];

// trend lines as printed on the figure: slope, intercept, x where the line stops
const trendsA = [
  { slope: 0.2323, intercept: 0.6925, end: 21.2, color: BLUE },
  { slope: 0.0902, intercept: 0.587, end: 33.7, color: GREEN },
  { slope: 0.0743, intercept: 0.5778, end: 37.2, color: ORANGE },
];
const trendsB = [
  { slope: 0.0297, intercept: 0.1949, end: 21.1, color: BLUE },
  { slope: 0.0111, intercept: 0.1966, end: 33.8, color: GREEN },
  { slope: 0.0092, intercept: 0.2091, end: 37.2, color: ORANGE },
];
const trendsC = [
  { slope: 0.0227, intercept: 0.1251, end: 19.3, color: ORANGE },
  { slope: 0.0184, intercept: 0.136, end: 23.4, color: BLUE },
];
const trendsD = [
  { slope: 0.0211, intercept: 0.1272, end: 19.8, color: ORANGE },
  { slope: 0.0187, intercept: 0.135, end: 23.2, color: BLUE },
];

// marker shapes (w = stroke width; dense cores get heavier strokes so they read as a solid cloud)
const ring = (color: string, r: number, w = 0.9) => (p: any) =>
  <circle cx={p.cx} cy={p.cy} r={r} fill="none" stroke={color} strokeWidth={w} />;
const cross = (color: string, s: number, w: number) => (p: any) => (
  <path
    d={`M${p.cx - s},${p.cy - s}L${p.cx + s},${p.cy + s}M${p.cx - s},${p.cy + s}L${p.cx + s},${p.cy - s}`}
    stroke={color}
    strokeWidth={w}
    fill="none"
  />
);
const tri = (color: string, s: number, w = 0.9) => (p: any) => (
  <path
    d={`M${p.cx},${p.cy - s}L${p.cx + s},${p.cy + s * 0.8}L${p.cx - s},${p.cy + s * 0.8}Z`}
    fill="none"
    stroke={color}
    strokeWidth={w}
  />
);

type Series = { name: string; data: Pt[]; shape: (p: any) => React.ReactElement };
type Trend = { slope: number; intercept: number; end: number; color: string };

type PanelProps = {
  left: number;
  top: number;
  height: number;
  yWidth: number;
  margin: { top: number; right: number; bottom: number; left: number };
  xMax: number;
  xTicks: number[];
  yMax: number;
  yTicks: number[];
  series: Series[];
  trends: Trend[];
};

const tickStyle = { fill: INK, fontSize: 14, fontFamily: FONT };

function Panel(props: PanelProps) {
  const { left, top, height, yWidth, margin, xMax, xTicks, yMax, yTicks, series, trends } = props;
  return (
    <div style={{ position: "absolute", left, top }}>
      <ScatterChart width={390} height={height} margin={margin}>
        <XAxis
          type="number"
          dataKey="x"
          domain={[0, xMax]}
          ticks={xTicks}
          height={40}
          axisLine={{ stroke: AXIS, strokeWidth: 2 }}
          tickLine={{ stroke: AXIS }}
          tickSize={4}
          tickMargin={3}
          tick={tickStyle}
          allowDataOverflow
        />
        <YAxis
          type="number"
          dataKey="y"
          domain={[0, yMax]}
          ticks={yTicks}
          width={yWidth}
          axisLine={{ stroke: AXIS, strokeWidth: 2 }}
          tickLine={{ stroke: AXIS }}
          tickSize={4}
          tickMargin={6}
          tick={tickStyle}
          allowDataOverflow
        />
        {series.map((s, i) => (
          <Scatter key={i} name={s.name} data={s.data} shape={s.shape} isAnimationActive={false} />
        ))}
        {trends.map((t, i) => (
          <ReferenceLine
            key={i}
            segment={[
              { x: 0, y: t.intercept },
              { x: t.end, y: t.slope * t.end + t.intercept },
            ]}
            stroke={t.color}
            strokeWidth={1}
          />
        ))}
      </ScatterChart>
    </div>
  );
}

const eqText = (t: Trend) => `y = ${t.slope}x + ${t.intercept}`;

export default function App() {
  const seriesA: Series[] = [
    { name: "AA", data: fromCols(aaColsA), shape: ring(BLUE, 3, 1.6) },
    { name: "AA", data: fromPts(aaPtsA), shape: ring(BLUE, 2.3) },
    { name: "PCG", data: fromCols(pcgColsA), shape: cross(ORANGE, 3.3, 2) },
    { name: "PCG", data: fromPts(pcgPtsA), shape: cross(ORANGE, 2.6, 1) },
    { name: "PCGR", data: fromCols(pcgrColsA), shape: tri(GREEN, 3.1, 1.8) },
    { name: "PCGR", data: fromPts(pcgrPtsA), shape: tri(GREEN, 2.3) },
  ];
  const seriesB: Series[] = [
    { name: "AA", data: fromCols(aaColsB), shape: ring(BLUE, 3, 1.6) },
    { name: "AA", data: fromPts(aaPtsB), shape: ring(BLUE, 2.3) },
    { name: "PCG", data: fromCols(pcgColsB), shape: cross(ORANGE, 3.3, 2) },
    { name: "PCG", data: fromPts(pcgPtsB), shape: cross(ORANGE, 2.6, 1) },
    { name: "PCGR", data: fromCols(pcgrColsB), shape: tri(GREEN, 3.1, 1.8) },
    { name: "PCGR", data: fromPts(pcgrPtsB), shape: tri(GREEN, 2.3) },
  ];
  const seriesC: Series[] = [
    { name: "PCG-RY", data: fromPts(pcgRyPtsC), shape: ring(BLUE, 2.3) },
    { name: "PCGR-RY", data: fromCols(pcgrRyColsC), shape: cross(ORANGE, 3.7, 2.7) },
    { name: "PCGR-RY", data: fromPts(pcgrRyPtsC), shape: cross(ORANGE, 2.6, 1.1) },
  ];
  const seriesD: Series[] = [
    { name: "PCG12", data: fromPts(pcg12PtsD), shape: ring(BLUE, 2.3) },
    { name: "PCG12R", data: fromCols(pcg12rColsD), shape: cross(ORANGE, 3.7, 2.7) },
    { name: "PCG12R", data: fromPts(pcg12rPtsD), shape: cross(ORANGE, 2.6, 1.1) },
  ];

  const eq = (t: Trend, x: number, y: number) => (
    <text key={`${x}-${y}`} x={x} y={y} fill={t.color} fontSize={9.2} fontWeight="bold" fontFamily={FONT}>
      {eqText(t)}
    </text>
  );
  const title = (s: string, x: number, y: number) => (
    <text x={x} y={y} textAnchor="middle" fontSize={15} fill={INK} fontFamily={FONT}>{s}</text>
  );
  const vtitle = (s: string, x: number, y: number) => (
    <text transform={`translate(${x},${y}) rotate(-90)`} textAnchor="middle" fontSize={15} fill={INK} fontFamily={FONT}>
      {s}
    </text>
  );
  const letter = (s: string, x: number, y: number) => (
    <text x={x} y={y} fontSize={19} fill={INK} fontFamily={FONT}>{s}</text>
  );
  const legendText = (s: string, x: number, y: number, size: number) => (
    <text x={x} y={y} fontSize={size} fill="#333" fontFamily={FONT}>{s}</text>
  );

  return (
    <div style={{ position: "absolute", left: 0, top: 0, width: 780, height: 697, background: "#fff" }}>
      <Panel left={0} top={0} height={340} yWidth={60} margin={{ top: 25, right: 26, bottom: 16, left: 0 }}
        xMax={40} xTicks={aTicksX} yMax={6} yTicks={aTicksY} series={seriesA} trends={trendsA} />
      <Panel left={390} top={0} height={340} yWidth={81} margin={{ top: 25, right: 15, bottom: 16, left: 0 }}
        xMax={40} xTicks={bTicksX} yMax={0.9} yTicks={bTicksY} series={seriesB} trends={trendsB} />
      <Panel left={0} top={340} height={357} yWidth={61} margin={{ top: 46, right: 29, bottom: 12, left: 0 }}
        xMax={30} xTicks={cdTicksX} yMax={0.6} yTicks={cdTicksY} series={seriesC} trends={trendsC} />
      <Panel left={390} top={340} height={357} yWidth={81} margin={{ top: 46, right: 10, bottom: 12, left: 0 }}
        xMax={30} xTicks={cdTicksX} yMax={0.6} yTicks={cdTicksY} series={seriesD} trends={trendsD} />

      <svg width={780} height={697} style={{ position: "absolute", left: 0, top: 0, pointerEvents: "none" }}>
        {letter("A", 7, 19)}
        {letter("B", 397, 19)}
        {letter("C", 7, 368)}
        {letter("D", 402, 368)}

        {title("Patristic distances (CAT+GTR)", 223, 329)}
        {title("Patristic distances (CAT+GTR)", 625, 329)}
        {title("Patristic distances (CAT+GTR)", 215, 691)}
        {title("Patristic distances (CAT+GTR)", 627, 691)}

        {vtitle("Patristic distances", 15, 157)}
        {vtitle("(Homogeneous models)", 30, 160)}
        {vtitle("Observed distances", 434, 130)}
        {vtitle("Observed distances", 25, 513)}
        {vtitle("Observed distances", 430, 513)}

        {eq(trendsA[0], 88, 82)}
        {eq(trendsA[1], 228, 120)}
        {eq(trendsA[2], 283, 192.5)}
        {eq(trendsB[0], 525, 60)}
        {eq(trendsB[1], 638, 111)}
        {eq(trendsB[2], 693, 153.5)}
        {eq(trendsC[0], 129, 419.5)}
        {eq(trendsC[1], 263, 439.5)}
        {eq(trendsD[0], 543, 424)}
        {eq(trendsD[1], 676, 451)}

        {/* legends */}
        <circle cx={323.3} cy={247} r={1.8} fill="none" stroke={BLUE} strokeWidth={0.8} />
        {legendText("AA", 326.7, 249.5, 7)}
        <path d="M321.3,255L325.3,259M321.3,259L325.3,255" stroke={ORANGE} strokeWidth={0.9} />
        {legendText("PCG", 326.7, 259.5, 7)}
        <path d="M323.3,265L325.3,268.6L321.3,268.6Z" fill="none" stroke={GREEN} strokeWidth={0.8} />
        {legendText("PCGR", 326.7, 269.5, 7)}

        <circle cx={719.3} cy={247.3} r={1.8} fill="none" stroke={BLUE} strokeWidth={0.8} />
        {legendText("AA", 722.3, 249.8, 7)}
        <path d="M717.3,255.3L721.3,259.3M717.3,259.3L721.3,255.3" stroke={ORANGE} strokeWidth={0.9} />
        {legendText("PCG", 722.3, 259.8, 7)}
        <path d="M719.3,263.7L721.3,267.3L717.3,267.3Z" fill="none" stroke={GREEN} strokeWidth={0.8} />
        {legendText("PCGR", 722.3, 268.2, 7)}

        <circle cx={303.7} cy={614.3} r={1.8} fill="none" stroke={BLUE} strokeWidth={0.8} />
        {legendText("PCG-RY", 306.7, 617, 7.5)}
        <path d="M301.2,627.5L306.2,632.5M301.2,632.5L306.2,627.5" stroke={ORANGE} strokeWidth={0.9} />
        {legendText("PCGR-RY", 306.7, 632.7, 7.5)}

        <circle cx={722.3} cy={614} r={1.8} fill="none" stroke={BLUE} strokeWidth={0.8} />
        {legendText("PCG12", 725, 616.7, 7.5)}
        <path d="M719.8,625.8L724.8,630.8M719.8,630.8L724.8,625.8" stroke={ORANGE} strokeWidth={0.9} />
        {legendText("PCG12R", 725, 631, 7.5)}
      </svg>
    </div>
  );
}
